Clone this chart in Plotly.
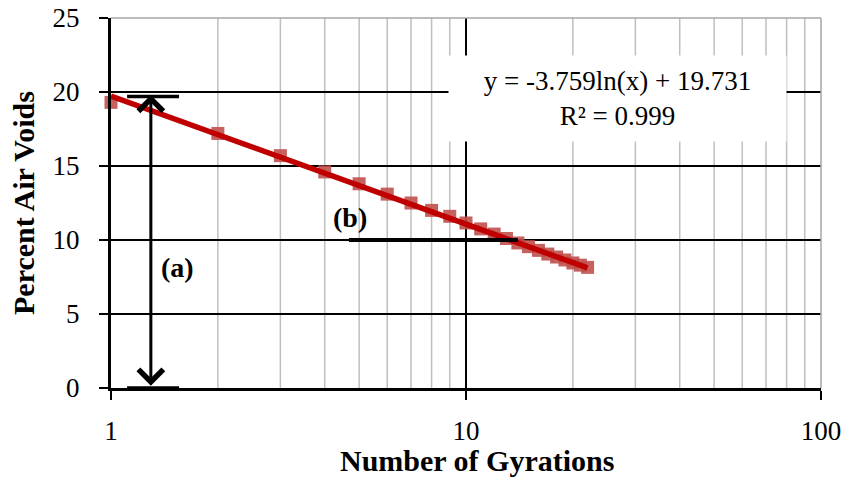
import numpy as np
import plotly.graph_objects as go

# ---- data ----
gyrations = [1, 2, 3, 4, 5, 6, 7, 8, 9, 10, 11, 12, 13, 14, 15, 16, 17, 18, 19, 20, 21, 22]
air_voids = [19.3, 17.2, 15.7, 14.6, 13.8, 13.1, 12.5, 12.0, 11.6, 11.15, 10.75, 10.4,
             10.1, 9.8, 9.55, 9.3, 9.05, 8.85, 8.65, 8.45, 8.3, 8.15]
trend_slope = -3.759
trend_intercept = 19.731
trend_label = "y = -3.759ln(x) + 19.731<br>R² = 0.999"
y_ticks = [0, 5, 10, 15, 20, 25]
x_ticks = [1, 10, 100]
x_minor = [2, 3, 4, 5, 6, 7, 8, 9, 20, 30, 40, 50, 60, 70, 80, 90]

FONT = "Liberation Serif"
trend_y = [trend_slope * np.log(v) + trend_intercept for v in gyrations]

fig = go.Figure()
fig.add_trace(go.Scatter(
    x=gyrations, y=air_voids, mode="markers", cliponaxis=False,
    marker=dict(symbol="square", size=13, color="rgba(192,80,77,0.9)", line=dict(width=0)),
    showlegend=False, hoverinfo="x+y"))
fig.add_trace(go.Scatter(
    x=gyrations, y=trend_y, mode="lines", cliponaxis=False,
    line=dict(color="#C00000", width=5.5),
    showlegend=False, hoverinfo="skip"))

shapes = []
# minor vertical gridlines
for v in x_minor:
    shapes.append(dict(type="line", xref="x", yref="paper", x0=v, x1=v, y0=0, y1=1,
                       line=dict(color="#BFBFBF", width=1.5), layer="below"))
# gray top and right border
shapes.append(dict(type="line", xref="paper", yref="paper", x0=0, x1=1, y0=1, y1=1,
                   line=dict(color="#A6A6A6", width=1.5), layer="above"))
shapes.append(dict(type="line", xref="paper", yref="paper", x0=1, x1=1, y0=0, y1=1,
                   line=dict(color="#A6A6A6", width=1.5), layer="above"))
# (a) end bars
shapes.append(dict(type="line", xref="x", yref="y", x0=1.11, x1=1.555, y0=19.7, y1=19.7,
                   line=dict(color="black", width=3.5), layer="above"))
shapes.append(dict(type="line", xref="x", yref="y", x0=1.11, x1=1.555, y0=0, y1=0,
                   line=dict(color="black", width=3.5), layer="above"))
# (b) line
shapes.append(dict(type="line", xref="x", yref="y", x0=4.68, x1=14.0, y0=10, y1=10,
                   line=dict(color="black", width=4), layer="above"))

a_x = np.log10(1.295)
annotations = [
    dict(x=a_x, y=19.8, ax=a_x, ay=0.05, xref="x", yref="y", axref="x", ayref="y",
         text="", showarrow=True, arrowside="end+start", arrowhead=4, startarrowhead=4,
         arrowwidth=3, arrowsize=1.6, startarrowsize=1.6, arrowcolor="black"),
    dict(x=0.186, y=8.17, xref="x", yref="y", text="<b>(a)</b>", showarrow=False,
         font=dict(family=FONT, size=28, color="black")),
    dict(x=0.673, y=11.54, xref="x", yref="y", text="<b>(b)</b>", showarrow=False,
         font=dict(family=FONT, size=28, color="black")),
    dict(x=1.4268, y=19.53, xref="x", yref="y", text=trend_label, showarrow=False,
         width=335, height=83, bgcolor="white", align="center",
         font=dict(family=FONT, size=27, color="black")),
    dict(x=0.515, y=-0.197, xref="paper", yref="paper", xanchor="center", yanchor="middle",
         text="<b>Number of Gyrations</b>",
         showarrow=False, font=dict(family=FONT, size=30, color="black")),
    dict(x=-0.124, y=0.5, xref="paper", yref="paper", xanchor="center", yanchor="middle",
         text="<b>Percent Air Voids</b>",
         textangle=-90, showarrow=False, font=dict(family=FONT, size=30, color="black")),
]

fig.update_layout(
    width=849, height=493,
    margin=dict(l=111, r=28, t=18, b=105, autoexpand=False),
    paper_bgcolor="white", plot_bgcolor="white",
    shapes=shapes, annotations=annotations,
    font=dict(family=FONT, size=27, color="black"),
    xaxis=dict(type="log", range=[0, 2], tickvals=x_ticks, ticktext=[str(t) for t in x_ticks],
               showgrid=True, gridcolor="black", gridwidth=2, automargin=False,
               ticks="outside", ticklen=9, tickwidth=2, tickcolor="black",
               showline=True, linecolor="black", linewidth=3, zeroline=False,
               ticklabeloverflow="allow",
               ticklabelstandoff=8, tickfont=dict(family=FONT, size=27, color="black")),
    yaxis=dict(range=[0, 25], tickvals=y_ticks, automargin=False,
               showgrid=True, gridcolor="black", gridwidth=2,
               ticks="outside", ticklen=9, tickwidth=2, tickcolor="black",
               showline=True, linecolor="black", linewidth=3, zeroline=False,
               ticklabeloverflow="allow",
               ticklabelstandoff=14, tickfont=dict(family=FONT, size=27, color="black")),
)

fig.write_html("out.html", config={"displayModeBar": False},
               post_script="document.body.style.margin='0';")
